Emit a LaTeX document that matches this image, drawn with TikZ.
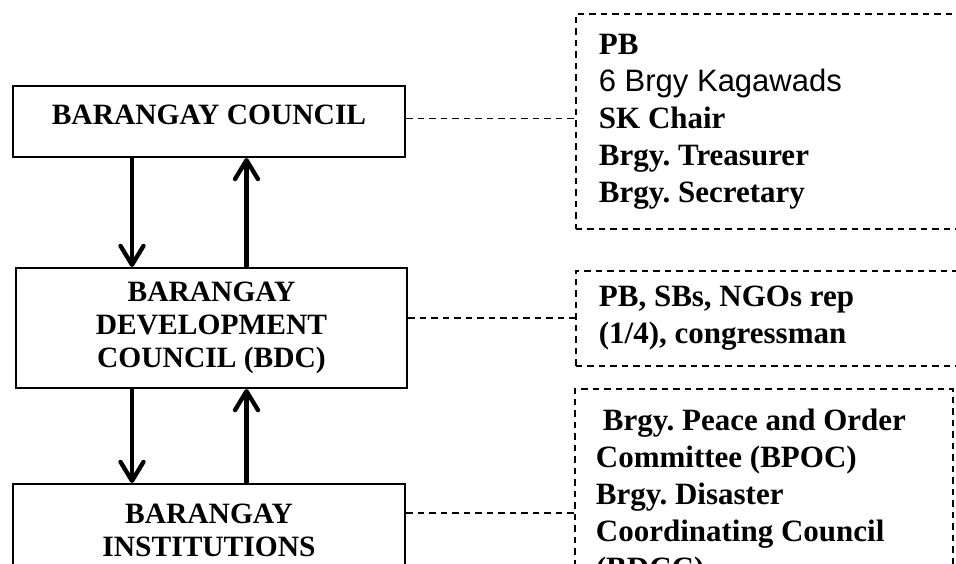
\documentclass[tikz,border=0pt]{standalone}
\usepackage{fontspec}
\setmainfont{Liberation Serif}
\newfontfamily\arialfont{Liberation Sans}
\usetikzlibrary{arrows.meta}

\tikzset{
  orgbox/.style={draw, line width=2pt, align=center, minimum width=392pt,
    font=\bfseries\fontsize{29.5}{33}\selectfont},
  memberbox/.style={draw, line width=1.8pt, dash pattern=on 6.5pt off 5pt,
    anchor=north west, align=flush left, inner xsep=23pt,
    font=\bfseries\fontsize{31}{37}\selectfont},
  link/.style={line width=1.8pt, dash pattern=on 6.5pt off 5pt},
  flow/.style={line width=4.3pt, -{Straight Barb[length=19pt,width=23pt,round]}}
}

\begin{document}
\begin{tikzpicture}[x=1pt, y=1pt]
    \useasboundingbox (0,0) rectangle (956,563);
    \clip (0,0) rectangle (956,563);

    % council levels
    \node[orgbox, minimum height=71pt, text depth=13pt] (council) at (209,441.5) {BARANGAY COUNCIL};
    \node[orgbox, minimum width=391pt, minimum height=120pt] (bdc) at (211.5,235)
        {BARANGAY\\DEVELOPMENT\\COUNCIL (BDC)};
    \node[orgbox, anchor=north, inner ysep=20pt, text depth=120pt] (inst) at (209,80)
        {BARANGAY\\INSTITUTIONS};

    % members
    \node[memberbox, text width=374pt, minimum height=215pt] (members) at (575,550)
        {PB\\{\arialfont\mdseries\fontsize{31}{37}\selectfont 6 Brgy Kagawads}\\SK Chair\\Brgy.\ Treasurer\\Brgy.\ Secretary};
    \node[memberbox, text width=374pt, minimum height=95pt] (bdcrep) at (575,293)
        {PB, SBs, NGOs rep\\(1/4), congressman};
    \node[memberbox, text width=336pt, inner xsep=21pt, inner ysep=20pt, text depth=150pt] (committees) at (574,175)
        {\hspace*{7pt}Brgy.\ Peace and Order\\Committee (BPOC)\\Brgy.\ Disaster\\Coordinating Council\\(BDCC)};

    % up and down flows
    \coordinate (downx) at (132,0);
    \coordinate (upx) at (246.5,0);
    \foreach \a/\b in {council/bdc, bdc/inst} {
        \draw[flow] (\a.south -| downx) -- (\b.north -| downx);
        \draw[flow] (\b.north -| upx) -- (\a.south -| upx);
    }

    % dashed links
    \coordinate (instlink) at ([yshift=-30pt]inst.north east);
    \draw[link] ([yshift=3pt]council.east) -- ([yshift=3pt]council.east -| members.west);
    \draw[link] (bdc.east |- bdcrep.west) -- (bdcrep.west);
    \draw[link] (instlink) -- (instlink -| committees.west);
\end{tikzpicture}
\end{document}
